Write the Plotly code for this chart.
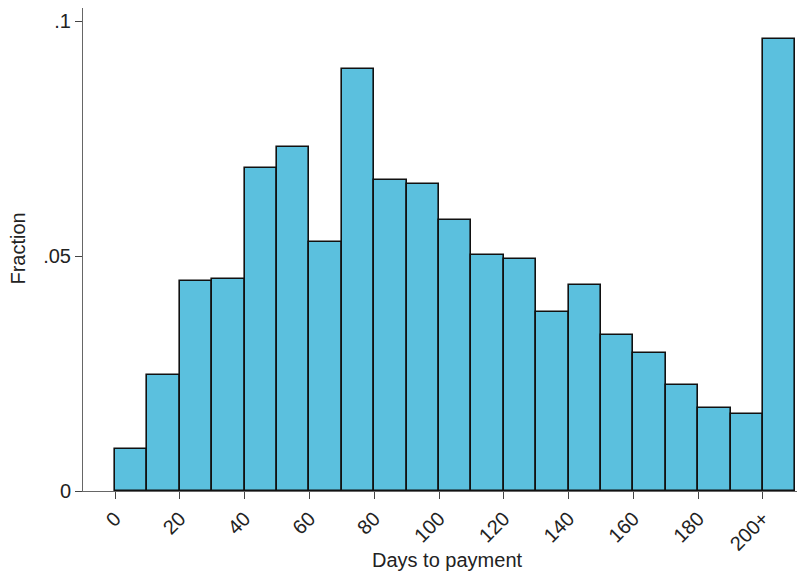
import plotly.graph_objects as go

bin_starts = [0, 10, 20, 30, 40, 50, 60, 70, 80, 90, 100,
              110, 120, 130, 140, 150, 160, 170, 180, 190, 200]
fractions = [0.0089, 0.0247, 0.0448, 0.0451, 0.0687, 0.0732, 0.0531, 0.0898,
             0.0662, 0.0653, 0.0577, 0.0502, 0.0494, 0.0381, 0.0438, 0.0332,
             0.0294, 0.0226, 0.0177, 0.0163, 0.0962]
x_tick_vals = [0, 20, 40, 60, 80, 100, 120, 140, 160, 180, 200]
x_tick_text = ["0", "20", "40", "60", "80", "100", "120", "140", "160", "180", "200+"]
y_tick_vals = [0, 0.05, 0.1]
y_tick_text = ["0", ".05", ".1"]

fig = go.Figure(go.Bar(
    x=bin_starts, y=fractions, width=10, offset=0,
    marker=dict(color="#5bc0de", line=dict(color="#111111", width=1.6)),
))

fam = "Liberation Sans, Arial, Helvetica, sans-serif"
tf = dict(family=fam, size=20, color="#222222")
fig.update_layout(
    width=799, height=579,
    margin=dict(l=83, r=2, t=8, b=88),
    plot_bgcolor="white", paper_bgcolor="white",
    font=tf, showlegend=False, bargap=0,
    annotations=[
        dict(text="Days to payment", xref="paper", yref="paper", x=0.51, y=-0.1429,
             xanchor="center", yanchor="middle", showarrow=False, font=tf),
        dict(text="Fraction", xref="paper", yref="paper", x=-0.091, y=0.502,
             xanchor="center", yanchor="middle", textangle=-90, showarrow=False, font=tf),
    ],
)
fig.update_xaxes(
    range=[-9.9, 210.5], tickvals=x_tick_vals, ticktext=x_tick_text, tickangle=-45,
    showgrid=False, zeroline=False, showline=True, linecolor="#666666", linewidth=1,
    ticks="outside", ticklen=7, tickcolor="#444444", automargin=False, tickfont=tf,
)
fig.update_yaxes(
    range=[0, 0.1028], tickvals=y_tick_vals, ticktext=y_tick_text,
    showgrid=False, zeroline=False, showline=True, linecolor="#666666", linewidth=1,
    ticks="outside", ticklen=7, tickcolor="#444444", automargin=False, tickfont=tf,
)
fig.write_html("out.html", config={"displayModeBar": False},
               post_script="document.body.style.margin='0';")
